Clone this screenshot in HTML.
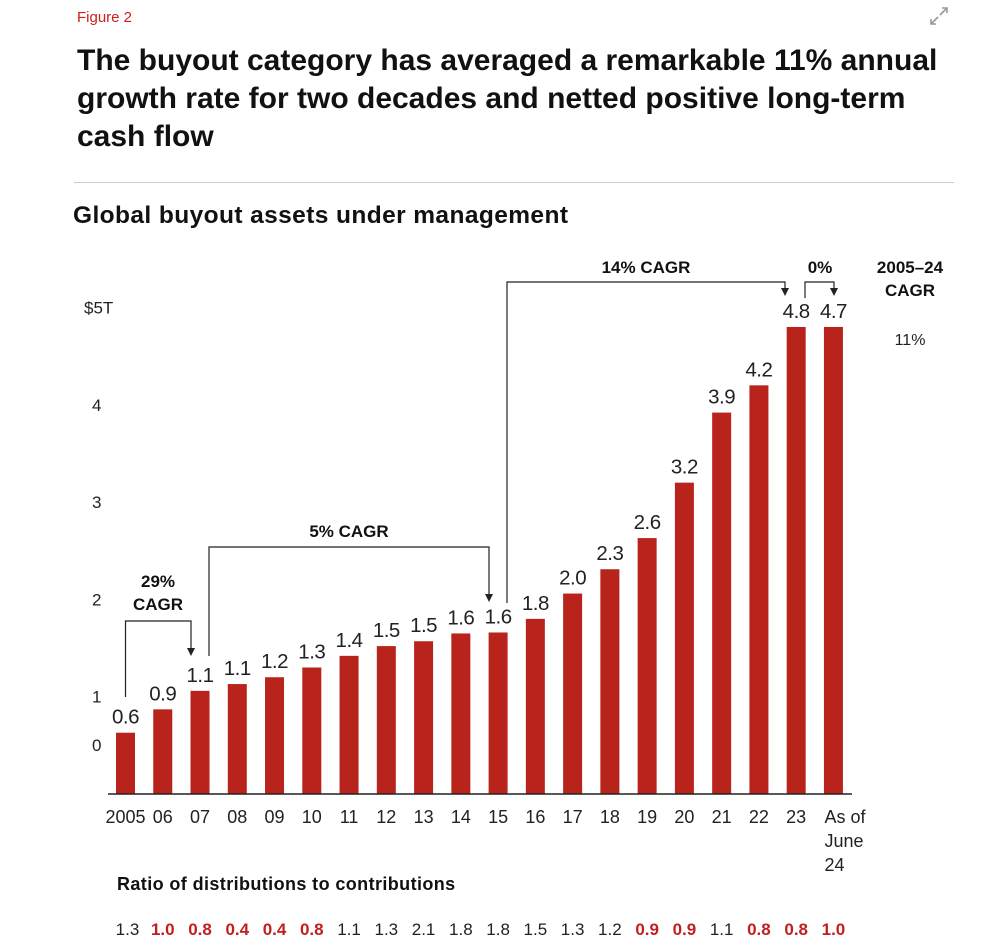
<!DOCTYPE html>
<html><head><meta charset="utf-8"><style>
body{margin:0;background:#fff;font-family:"Liberation Sans",sans-serif;}
#wrap{position:relative;width:1000px;height:945px;overflow:hidden;}
.fig{position:absolute;left:77px;top:9px;color:#cc1f1f;font-size:15px;}
h1{position:absolute;left:77px;top:42px;margin:0;font-size:30px;line-height:38px;font-weight:bold;color:#111;width:872px;}
.rule{position:absolute;left:74px;top:182px;width:880px;height:1px;background:#ccc;}
h2{position:absolute;left:73px;top:202px;margin:0;font-size:24.5px;letter-spacing:0.4px;font-weight:bold;color:#111;}
.ratioT{position:absolute;left:117px;top:874px;font-size:18px;letter-spacing:0.4px;font-weight:bold;color:#111;}
</style></head><body><div id="wrap">
<div class="fig">Figure 2</div>
<svg style="position:absolute;left:928px;top:5px" width="22" height="22"><path d="M12 10 L19 3 M14 3 H19 V8 M10 12 L3 19 M3 14 V19 H8" stroke="#999" stroke-width="1.6" fill="none"/></svg>
<h1>The buyout category has averaged a remarkable 11% annual growth rate for two decades and netted positive long-term cash flow</h1>
<div class="rule"></div>
<h2>Global buyout assets under management</h2>
<div class="ratioT">Ratio of distributions to contributions</div>
<svg id="c" width="1000" height="945" style="position:absolute;left:0;top:0"></svg>
</div>
<script>
const categories=["2005","06","07","08","09","10","11","12","13","14","15","16","17","18","19","20","21","22","23","As of June 24"];
const values=[0.63,0.87,1.06,1.13,1.2,1.3,1.42,1.52,1.57,1.65,1.66,1.8,2.06,2.31,2.63,3.2,3.92,4.2,4.8,4.8];
const valueLabels=["0.6","0.9","1.1","1.1","1.2","1.3","1.4","1.5","1.5","1.6","1.6","1.8","2.0","2.3","2.6","3.2","3.9","4.2","4.8","4.7"];
const ratios=["1.3","1.0","0.8","0.4","0.4","0.8","1.1","1.3","2.1","1.8","1.8","1.5","1.3","1.2","0.9","0.9","1.1","0.8","0.8","1.0"];
const ratioRed=[false,true,true,true,true,true,false,false,false,false,false,false,false,false,true,true,false,true,true,true];
const yTicks=[0,1,2,3,4,5];
const yTickLabels=["0","1","2","3","4","$5T"];
const NS="http://www.w3.org/2000/svg",svg=document.getElementById('c');
const base=794,unit=97.3,x0=125.5,step=37.26,bw=19;
const y=v=>base-v*unit, x=i=>x0+i*step;
function mk(t,a,txt){const e=document.createElementNS(NS,t);for(const k in a)e.setAttribute(k,a[k]);if(txt!=null)e.textContent=txt;svg.appendChild(e);return e;}
yTicks.forEach((t,i)=>{const yy=t===0?y(0)-43:y(t)+6;
const e=mk('text',{x:t===5?84:92,y:yy,'font-size':17,fill:'#222'},yTickLabels[i]);

});
values.forEach((v,i)=>{
const r=mk('rect',{x:x(i)-bw/2,y:y(v),width:bw,height:base-y(v),fill:'#b8231c'});


const l=mk('text',{x:x(i),y:y(v)-9,'text-anchor':'middle','font-size':20.5,'letter-spacing':'-0.5',fill:'#222'},valueLabels[i]);


if(i<19){const c=mk('text',{x:x(i),y:823,'text-anchor':'middle','font-size':18,fill:'#222'},categories[i]);

}
const rt=mk('text',{x:x(i)+(i==0?2:0),y:935,'text-anchor':'middle','font-size':17,fill:ratioRed[i]?'#c11f1f':'#222','font-weight':ratioRed[i]?'bold':'normal'},ratios[i]);


});
['As of','June','24'].forEach((s,k)=>{const e=mk('text',{x:x(19)-9,y:823+k*24,'font-size':18,fill:'#222'},s);

});
mk('line',{x1:108,x2:852,y1:base,y2:base,stroke:'#222','stroke-width':1.5});
function bracket(xa,xb,yTop,y1,y2,lx,ly,lines){
const p=mk('path',{d:`M${xa} ${y1} V${yTop} H${xb} V${y2-6}`,stroke:'#222','stroke-width':1.2,fill:'none'});


mk('path',{d:`M${xb-4} ${y2-8} L${xb+4} ${y2-8} L${xb} ${y2} Z`,fill:'#222'});
lines.forEach((s,k)=>{const t=mk('text',{x:lx,y:ly+k*23,'text-anchor':'middle','font-size':17,'font-weight':'bold',fill:'#111'},s);

});
}
bracket(x(0),191,621,697,656,158,587,['29%','CAGR']);
bracket(209,489,547,656,602,349,537,['5% CAGR']);
bracket(507,785,282,603,296,646,273,['14% CAGR']);
bracket(805,834,282,298,296,820,273,['0%']);
[['2005–24',273],['CAGR',296]].forEach(a=>{const t=mk('text',{x:910,y:a[1],'text-anchor':'middle','font-size':17,'font-weight':'bold',fill:'#111'},a[0]);

});
const o=mk('text',{x:910,y:345,'text-anchor':'middle','font-size':16,fill:'#222'},'11%');


</script></body></html>
